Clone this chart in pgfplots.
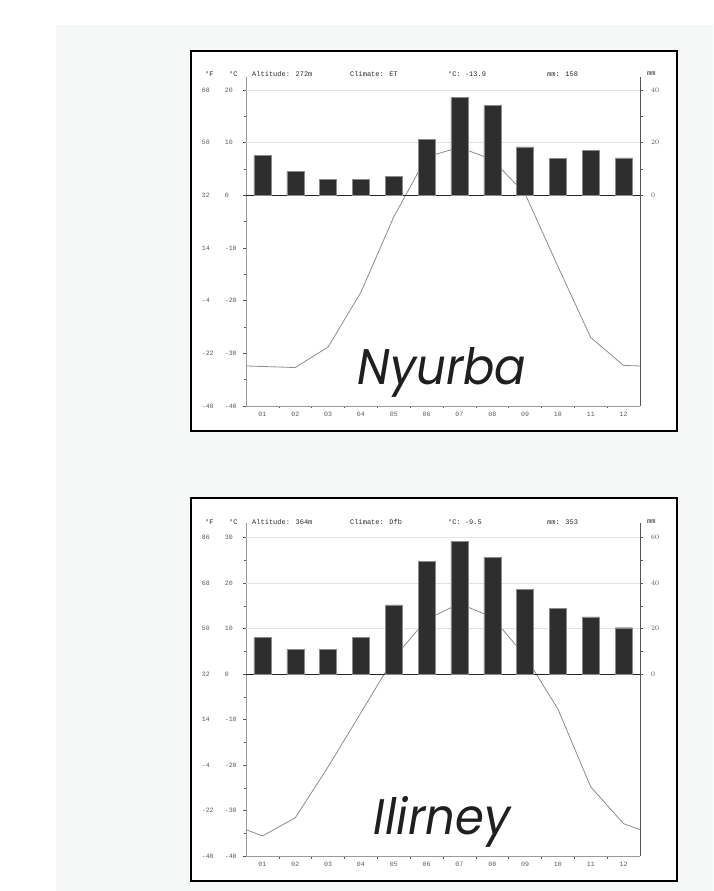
\documentclass[border=0pt]{standalone}
\usepackage{fontspec}
\usepackage{pgfplots}
\pgfplotsset{compat=1.18}
\newfontfamily\chartfont{Liberation Mono}
\newfontfamily\namefont{Poppins}[FakeStretch=0.93]
\definecolor{panel}{HTML}{F6F8F8}
\definecolor{axgray}{HTML}{9A9A9A}
\definecolor{axdark}{HTML}{555555}
\definecolor{labgray}{HTML}{5A5A5A}
\definecolor{hdrgray}{HTML}{2A2A2A}
\definecolor{tline}{HTML}{8C8C8C}
\definecolor{barfill}{HTML}{2E2E2E}
\definecolor{bargray}{HTML}{8A8A8A}
\definecolor{gridgray}{HTML}{E2E2E2}
\newcommand{\lab}[2]{\makebox[23pt][l]{#1}\makebox[18pt][l]{#2}}

\pgfplotstableread{
m t
0.5 -32.4
1 -32.5
2 -32.7
3 -28.8
4 -18.4
5 -4.1
6 7.3
7 9.1
8 6.8
9 0.3
10 -13.5
11 -27.0
12 -32.3
12.5 -32.4
}\tempA
\pgfplotstableread{
m p
1 15.2
2 9.1
3 6.2
4 6.2
5 7.1
6 21.2
7 37.1
8 34.1
9 18.4
10 14.1
11 17.1
12 14.2
}\precA
\pgfplotstableread{
m t
0.5 -34.2
1 -35.6
2 -31.6
3 -20.4
4 -8.5
5 3.5
6 12.0
7 15.5
8 12.5
9 4.0
10 -7.7
11 -24.8
12 -32.9
12.5 -34.2
}\tempB
\pgfplotstableread{
m p
1 16.2
2 11.0
3 11.0
4 16.2
5 30.4
6 49.5
7 58.3
8 51.2
9 37.3
10 29.0
11 25.2
12 20.4
}\precB

\pgfplotsset{
  tempax/.style={
    scale only axis, anchor=south west, width=394pt,
    xmin=0.5, xmax=12.5,
    axis x line=bottom, axis y line=left,
    axis line style={-, draw=axgray, line width=0.6pt},
    xtick={1,2,3,4,5,6,7,8,9,10,11,12},
    xticklabels={01,02,03,04,05,06,07,08,09,10,11,12},
    minor xtick={1.5,2.5,3.5,4.5,5.5,6.5,7.5,8.5,9.5,10.5,11.5},
    major x tick style={draw=none},
    tick align=outside, major tick length=3pt, minor tick length=2.5pt,
    tick style={draw=axdark, line width=0.5pt},
    tick label style={font=\chartfont\fontsize{6.6}{7}\selectfont, text=labgray},
    yticklabel style={anchor=east, inner sep=0pt},
    xticklabel style={anchor=north, inner sep=0pt, yshift=-3pt},
  },
  precax/.style={
    scale only axis, anchor=south west, width=394pt,
    xmin=0.5, xmax=12.5,
    axis x line=none, axis y line=right,
    axis line style={-, draw=axdark, line width=0.7pt},
    tick align=outside, major tick length=3pt, minor tick length=2.5pt,
    tick style={draw=axdark, line width=0.5pt},
    ymajorgrids, grid style={draw=gridgray, line width=0.6pt},
    extra y ticks={0},
    extra y tick style={grid style={draw=black!85, line width=0.9pt}},
    tick label style={font=\chartfont\fontsize{6.6}{7}\selectfont, text=labgray},
    yticklabel style={anchor=west, inner sep=0pt, xshift=8pt},
  },
}

\begin{document}
\begin{tikzpicture}[x=1pt,y=1pt]
\fill[white] (0,0) rectangle (713,891);
\fill[panel] (56,0) rectangle (713,866);
\filldraw[fill=white,draw=black,line width=2pt] (191,460) rectangle (677,840);
\filldraw[fill=white,draw=black,line width=2pt] (191,10) rectangle (677,393);

% ---------- Nyurba ----------
\begin{axis}[tempax, at={(246pt,485pt)}, height=329pt, ymin=-40, ymax=22.47,
  ytick={-40,-30,-20,-10,0,10,20},
  minor ytick={-35,-25,-15,-5,5,15},
  yticklabels={\lab{-40}{-40},\lab{-22}{-30},\lab{-4}{-20},\lab{14}{-10},\lab{32}{0},\lab{50}{10},\lab{68}{20}}]
\addplot[tline, line width=0.8pt] table[x=m,y=t] {\tempA};
\end{axis}
\begin{axis}[precax, at={(246pt,485pt)}, height=329pt, ymin=-80, ymax=44.94,
  ytick={20,40}, minor ytick={10,30}]
\addplot[ybar, bar width=17pt, fill=barfill, draw=bargray, line width=0.4pt] table[x=m,y=p] {\precA};
\end{axis}
\begin{scope}[font=\chartfont\fontsize{7}{8}\selectfont, text=hdrgray, inner sep=0pt]
\node[anchor=west] at (205,817) {°F};
\node[anchor=west] at (229,817) {°C};
\node[anchor=west] at (252,817) {Altitude: 272m};
\node[anchor=west] at (350,817) {Climate: ET};
\node[anchor=west] at (448,817) {°C: -13.9};
\node[anchor=west] at (547,817) {mm: 158};
\node[anchor=west] at (647,817) {mm};
\end{scope}
\node[anchor=base, inner sep=0pt, font=\namefont\itshape\fontsize{50}{50}\selectfont, text=black!88] at (442,506) {Nyurba};

% ---------- Ilirney ----------
\begin{axis}[tempax, at={(246pt,35pt)}, height=333pt, ymin=-40, ymax=33.23,
  ytick={-40,-30,-20,-10,0,10,20,30},
  minor ytick={-35,-25,-15,-5,5,15,25},
  yticklabels={\lab{-40}{-40},\lab{-22}{-30},\lab{-4}{-20},\lab{14}{-10},\lab{32}{0},\lab{50}{10},\lab{68}{20},\lab{86}{30}}]
\addplot[tline, line width=0.8pt] table[x=m,y=t] {\tempB};
\end{axis}
\begin{axis}[precax, at={(246pt,35pt)}, height=333pt, ymin=-80, ymax=66.46,
  ytick={20,40,60}, minor ytick={10,30,50}]
\addplot[ybar, bar width=17pt, fill=barfill, draw=bargray, line width=0.4pt] table[x=m,y=p] {\precB};
\end{axis}
\begin{scope}[font=\chartfont\fontsize{7}{8}\selectfont, text=hdrgray, inner sep=0pt]
\node[anchor=west] at (205,369) {°F};
\node[anchor=west] at (229,369) {°C};
\node[anchor=west] at (252,369) {Altitude: 364m};
\node[anchor=west] at (350,369) {Climate: Dfb};
\node[anchor=west] at (448,369) {°C: -9.5};
\node[anchor=west] at (547,369) {mm: 353};
\node[anchor=west] at (647,369) {mm};
\end{scope}
\node[anchor=base, inner sep=0pt, font=\namefont\itshape\fontsize{50}{50}\selectfont, text=black!88] at (442,56) {Ilirney};
\end{tikzpicture}
\end{document}
